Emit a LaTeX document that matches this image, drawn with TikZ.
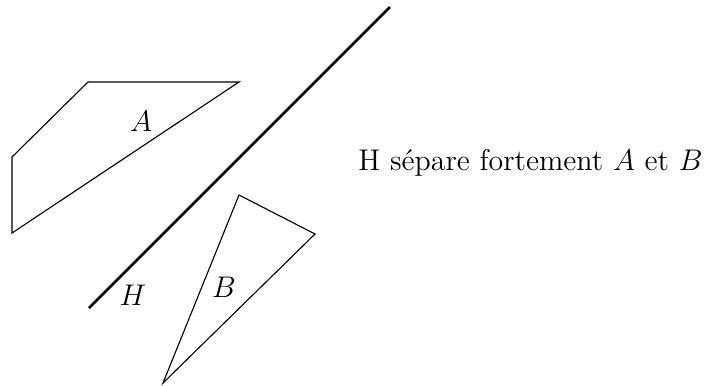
\documentclass[tikz,border=0pt]{standalone}
\begin{document}
\begin{tikzpicture}[x=0.4016pt,y=-0.4016pt,
  polyset/.style={draw=black,line width=0.45pt,line join=miter},
  hyper/.style={draw=black,line width=1pt},
  lbl/.style={inner sep=0pt,font=\fontsize{12}{14}\selectfont}]
\useasboundingbox (0,0) rectangle (713,385);
\coordinate (a1) at (88,82);
\coordinate (a2) at (239,82);
\coordinate (a3) at (12,233);
\coordinate (a4) at (12,157);
\draw[polyset] (a1) -- (a2) -- (a3) -- (a4) -- cycle;
\coordinate (h1) at (89,308);
\coordinate (h2) at (390,7);
\draw[hyper] (h1) -- (h2);
\coordinate (b1) at (239,195);
\coordinate (b2) at (315,234);
\coordinate (b3) at (163,383);
\draw[polyset] (b1) -- (b2) -- (b3) -- cycle;
\node[lbl] (la) at (141,121) {$A$};
\node[lbl] (lh) at (133,295) {$H$};
\node[lbl] (lb) at (224,287) {$B$};
\node[lbl,anchor=west] (txt) at (358,163) {H sépare fortement $A$ et $B$};
\end{tikzpicture}
\end{document}
